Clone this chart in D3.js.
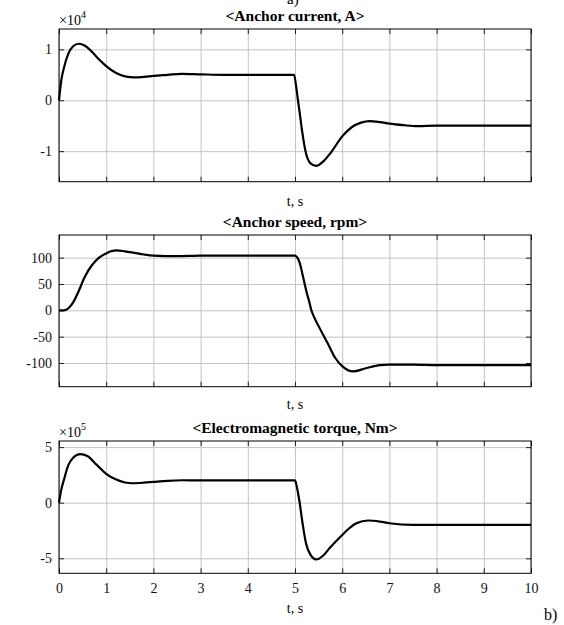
<!DOCTYPE html>
<html>
<head>
<meta charset="utf-8">
<script src="https://cdn.jsdelivr.net/npm/d3@7"></script>
<style>
  body { margin: 0; background: #fff; }
  svg { display: block; font-family: "Liberation Serif", "Times New Roman", serif; }
  .grid line { stroke: #c4c4c4; stroke-width: 1; }
  .grid path { display: none; }
  .ax { font-family: "Liberation Serif", "Times New Roman", serif; }
  .ax path { display: none; }
  .ax line { stroke: #222; }
  .ax text { font-size: 14px; fill: #111; }
</style>
</head>
<body>
<div id="chart"></div>
<script>
// time ticks shared by all three plots
var timeTicks = [0, 1, 2, 3, 4, 5, 6, 7, 8, 9, 10];

// anchor current, x10^4 A
var currentT = [0, 0.05, 0.1, 0.2, 0.3, 0.42, 0.55, 0.7, 0.85, 1.0, 1.2, 1.4, 1.6, 1.8, 2.0, 2.3, 2.6, 3.0, 3.5, 4.0, 4.5, 4.98,
  5.02, 5.06, 5.1, 5.15, 5.23, 5.33, 5.45, 5.6, 5.75, 6.0, 6.2, 6.4, 6.58, 6.8, 7.0, 7.3, 7.6, 8.0, 9.0, 10];
var currentV = [0, 0.4, 0.62, 0.92, 1.06, 1.11, 1.07, 0.95, 0.8, 0.67, 0.54, 0.47, 0.45, 0.46, 0.48, 0.5, 0.52, 0.51, 0.5, 0.5, 0.5, 0.5,
  0.3, 0.02, -0.25, -0.6, -1.03, -1.24, -1.29, -1.2, -1.04, -0.71, -0.53, -0.44, -0.41, -0.43, -0.46, -0.49, -0.51, -0.5, -0.5, -0.5];
var currentTicks = [-1, 0, 1];

// anchor speed, rpm
var speedT = [0, 0.1, 0.15, 0.2, 0.3, 0.4, 0.55, 0.7, 0.85, 1.0, 1.1, 1.22, 1.4, 1.6, 1.8, 2.0, 2.5, 3.0, 4.0, 5.0,
  5.05, 5.1, 5.15, 5.2, 5.25, 5.3, 5.34, 5.4, 5.5, 5.7, 5.85, 6.0, 6.23, 6.5, 6.8, 7.0, 7.5, 8.0, 9.0, 10];
var speedV = [0, 0, 1, 4, 15, 33, 64, 86, 100, 108, 112, 114, 112, 109, 106, 104, 103, 104, 104, 104,
  100, 90, 72, 52, 33, 17, 2, -12, -30, -64, -90, -106, -116, -110, -104, -103, -103, -104, -104, -104];
var speedTicks = [-100, -50, 0, 50, 100];

// electromagnetic torque, x10^5 Nm
var torqueT = [0, 0.05, 0.1, 0.2, 0.3, 0.45, 0.6, 0.8, 1.0, 1.2, 1.4, 1.55, 1.8, 2.0, 2.3, 2.6, 3.0, 4.0, 5.0,
  5.03, 5.09, 5.16, 5.23, 5.33, 5.45, 5.6, 5.73, 6.0, 6.15, 6.3, 6.55, 6.8, 7.0, 7.5, 8.0, 10];
var torqueV = [0, 1.2, 2.0, 3.4, 4.05, 4.37, 4.2, 3.4, 2.6, 2.1, 1.82, 1.75, 1.8, 1.87, 1.97, 2.02, 2.0, 2.0, 2.0,
  1.6, 0.24, -1.85, -3.6, -4.7, -5.1, -4.75, -4.1, -2.9, -2.3, -1.85, -1.6, -1.7, -1.85, -2.0, -2.0, -2.0];
var torqueTicks = [-5, 0, 5];

var W = 564, H = 625;
var svg = d3.select("#chart").append("svg").attr("width", W).attr("height", H);

var x = d3.scaleLinear().domain([0, 10]).range([59, 531]);
var fmt = function (d) { return String(d); }; // plain hyphen minus like the original

function panel(opt) {
  var y = d3.scaleLinear().domain(opt.ydom).range([opt.bottom, opt.top]);
  var h = opt.bottom - opt.top, w = x.range()[1] - x.range()[0];
  var g = svg.append("g");

  // grid
  g.append("g").attr("class", "grid").attr("transform", "translate(0," + opt.bottom + ")")
    .call(d3.axisBottom(x).tickValues(timeTicks).tickSize(-h).tickFormat(""));
  g.append("g").attr("class", "grid").attr("transform", "translate(59,0)")
    .call(d3.axisLeft(y).tickValues(opt.ticks).tickSize(-w).tickFormat(""));

  // inward ticks on all four sides
  var bx = g.append("g").attr("class", "ax").attr("transform", "translate(0," + opt.bottom + ")")
    .call(d3.axisBottom(x).tickValues(timeTicks).tickSizeInner(-5).tickSizeOuter(0).tickPadding(10).tickFormat(fmt));
  if (!opt.xlabels) bx.selectAll("text").remove();
  g.append("g").attr("class", "ax").attr("transform", "translate(0," + opt.top + ")")
    .call(d3.axisTop(x).tickValues(timeTicks).tickSizeInner(-5).tickSizeOuter(0).tickFormat(""));
  g.append("g").attr("class", "ax").attr("transform", "translate(59,0)")
    .call(d3.axisLeft(y).tickValues(opt.ticks).tickSizeInner(-5).tickSizeOuter(0).tickPadding(7).tickFormat(fmt));
  g.append("g").attr("class", "ax").attr("transform", "translate(531,0)")
    .call(d3.axisRight(y).tickValues(opt.ticks).tickSizeInner(-5).tickSizeOuter(0).tickFormat(""));

  // box
  g.append("rect").attr("x", 59).attr("y", opt.top).attr("width", w).attr("height", h)
    .attr("fill", "none").attr("stroke", "#000").attr("stroke-width", 1);

  // curve
  var pts = opt.t.map(function (t, i) { return [t, opt.v[i]]; });
  g.append("path").datum(pts)
    .attr("fill", "none").attr("stroke", "#000").attr("stroke-width", 2.2)
    .attr("d", d3.line().x(function (d) { return x(d[0]); }).y(function (d) { return y(d[1]); })
      .curve(d3.curveMonotoneX));

  // title
  g.append("text").attr("x", 295).attr("y", opt.top - 8).attr("text-anchor", "middle")
    .style("font-size", "15.5px").style("font-weight", "bold").text(opt.title);

  // x label
  g.append("text").attr("x", 295).attr("y", opt.xlabY).attr("text-anchor", "middle")
    .style("font-size", "14px").text("t, s");

  // exponent
  if (opt.exp) {
    var e = g.append("text").attr("x", 59).attr("y", opt.top - 4).style("font-size", "14px");
    e.append("tspan").text("\u00d710");
    e.append("tspan").attr("dy", -7).style("font-size", "10px").text(opt.exp);
  }
}

panel({ top: 29, bottom: 181.7, ydom: [-1.6, 1.4], ticks: currentTicks, t: currentT, v: currentV,
  title: "<Anchor current, A>", xlabY: 206, exp: "4" });
panel({ top: 235, bottom: 386.7, ydom: [-145, 143], ticks: speedTicks, t: speedT, v: speedV,
  title: "<Anchor speed, rpm>", xlabY: 409 });
panel({ top: 441, bottom: 573.3, ydom: [-6.35, 5.55], ticks: torqueTicks, t: torqueT, v: torqueV,
  title: "<Electromagnetic torque, Nm>", xlabY: 613, exp: "5", xlabels: true });

// panel letters (the top one is clipped by the page edge, as in the original)
svg.append("text").attr("x", 287).attr("y", 4).style("font-size", "15px").text("a)");
svg.append("text").attr("x", 544).attr("y", 620).style("font-size", "16px").text("b)");
</script>
</body>
</html>
